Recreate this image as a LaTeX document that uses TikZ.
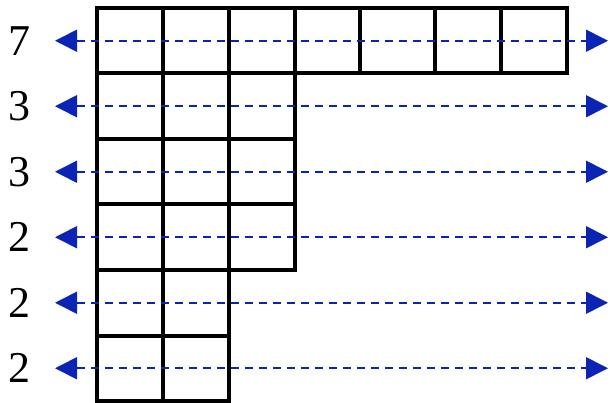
\documentclass[tikz,border=0pt]{standalone}
\usepackage{fontspec}
\setmainfont{Liberation Serif}
\usetikzlibrary{arrows.meta}
\definecolor{cArrow}{HTML}{0B24B4}

\begin{document}
\begin{tikzpicture}[x=1pt, y=1pt,
    cell/.style={draw=black, line width=4pt, line join=miter},
    rowlen/.style={font=\fontsize{44}{44}\selectfont, anchor=center, inner sep=0pt},
    rowarrow/.style={cArrow, line width=1.6pt, dash pattern=on 8pt off 6pt,
      {Triangle[length=22pt,width=22pt]}-{Triangle[length=22pt,width=22pt]}}]
  \useasboundingbox (0,0) rectangle (610,402);
  % Top row (cell widths as in the figure)
  \foreach \xa/\xb in {97/163,163/229,229/295,295/360,360/435,435/501,501/567}
    \draw[cell] (\xa,328.5) rectangle (\xb,394);
  % Remaining rows
  \foreach \r/\len in {2/3,3/3,4/3,5/2,6/2}
    \foreach \c in {1,...,\len}
      \draw[cell] ({97+66*(\c-1)},{394-65.5*\r}) rectangle ({97+66*\c},{394-65.5*(\r-1)});
  % Row labels and dashed double arrows
  \foreach \n [count=\r] in {7,3,3,2,2,2} {
    \node[rowlen] (len\r) at (20,{394-65.5*(\r-0.5)}) {\n};
    \coordinate (L\r) at (55,{394-65.5*(\r-0.5)});
    \coordinate (R\r) at (608,{394-65.5*(\r-0.5)});
    \draw[rowarrow] (L\r) -- (R\r);
  }
\end{tikzpicture}
\end{document}
